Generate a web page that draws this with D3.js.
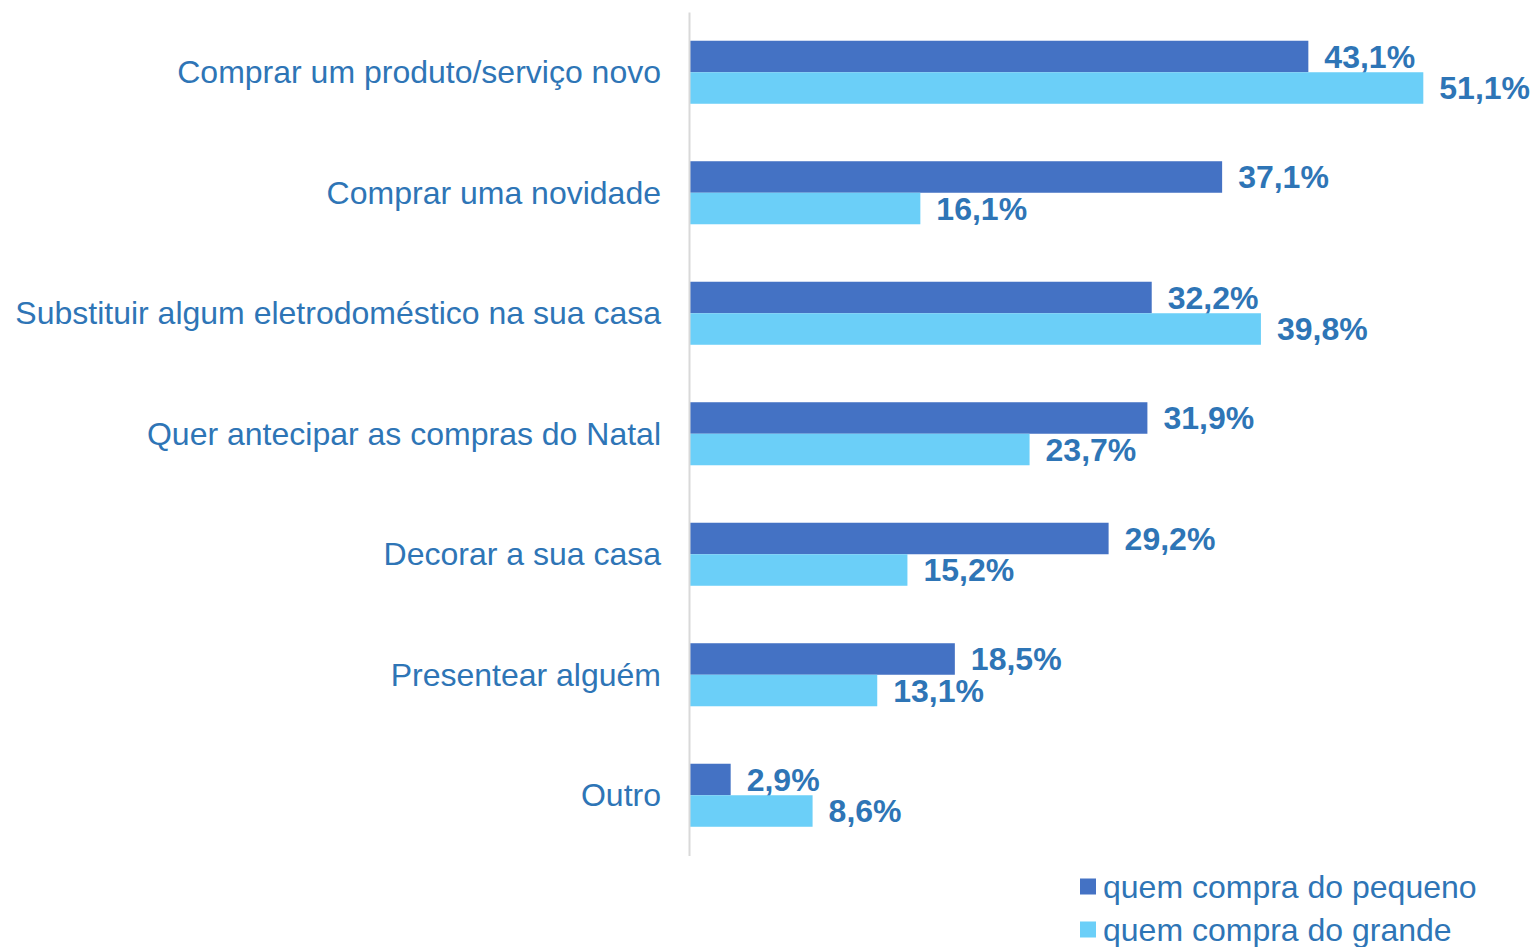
<!DOCTYPE html>
<html><head><meta charset="utf-8">
<script src="https://cdn.jsdelivr.net/npm/d3@7"></script>
<style>html,body{margin:0;padding:0;background:#fff;}svg{display:block;}</style>
</head><body>
<svg id="chart" width="1534" height="947"></svg>
<script>
const categories = [
  "Comprar um produto/serviço novo",
  "Comprar uma novidade",
  "Substituir algum eletrodoméstico na sua casa",
  "Quer antecipar as compras do Natal",
  "Decorar a sua casa",
  "Presentear alguém",
  "Outro"
];
const seriesNames = ["quem compra do pequeno", "quem compra do grande"];
const pequeno = [43.1, 37.1, 32.2, 31.9, 29.2, 18.5, 2.9];
const grande = [51.1, 16.1, 39.8, 23.7, 15.2, 13.1, 8.6];
const colors = ["#4472C4", "#6BCFF8"];
const textColor = "#2E75B6";
const font = "'Liberation Sans', Arial, sans-serif";

const svg = d3.select("#chart");
const x = d3.scaleLinear().domain([0, 60]).range([689, 689 + 60 * 14.37]);
const y = d3.scaleBand().domain(categories).range([12, 855.5]).paddingInner(0.477).paddingOuter(0.2385);
const ySub = d3.scaleBand().domain([0, 1]).range([0, y.bandwidth()]);
const series = [pequeno, grande];

// bars
series.forEach((vals, si) => {
  svg.append("g").selectAll("rect").data(categories).join("rect")
    .attr("x", x(0))
    .attr("y", (d) => y(d) + ySub(si))
    .attr("width", (d, i) => x(vals[i]) - x(0))
    .attr("height", ySub.bandwidth())
    .attr("fill", colors[si]);
  svg.append("g").selectAll("text").data(categories).join("text")
    .attr("x", (d, i) => x(vals[i]) + 16)
    .attr("y", (d) => y(d) + ySub(si) + ySub.bandwidth() / 2)
    .attr("dy", "0.35em")
    .attr("font-family", font).attr("font-weight", "bold").attr("font-size", 32)
    .attr("fill", textColor)
    .text((d, i) => vals[i].toFixed(1).replace(".", ",") + "%");
});

// axis
const axis = d3.axisLeft(y).tickSize(0).tickPadding(28);
const ag = svg.append("g").attr("transform", `translate(${x(0)},0)`).call(axis);
ag.select(".domain").attr("stroke", "#D9D9D9").attr("stroke-width", 2);
ag.selectAll(".tick text")
  .attr("font-family", font).attr("font-size", 32).attr("fill", textColor).attr("dy", "0.35em");

// legend
const lg = svg.append("g");
seriesNames.forEach((n, i) => {
  const yy = 886.5 + i * 43;
  lg.append("rect").attr("x", 1080).attr("y", yy - 8).attr("width", 16).attr("height", 16).attr("fill", colors[i]);
  lg.append("text").attr("x", 1103).attr("y", yy).attr("dy", "0.35em")
    .attr("font-family", font).attr("font-size", 32).attr("fill", textColor).text(n);
});
</script>
</body></html>
